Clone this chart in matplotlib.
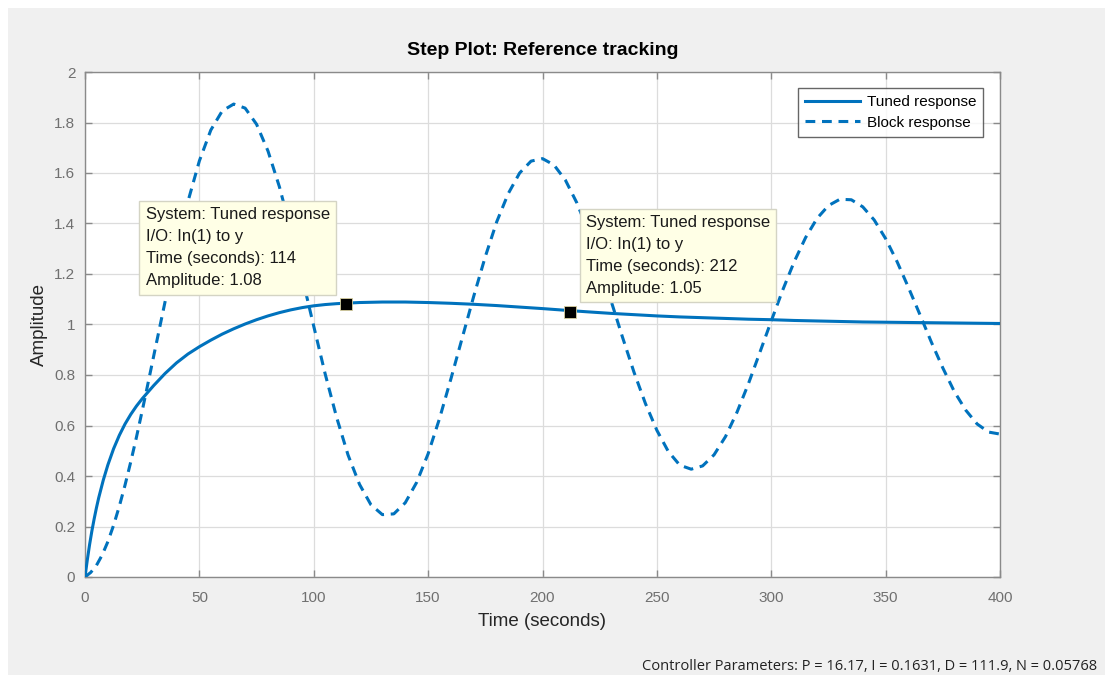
import matplotlib
matplotlib.use("Agg")
import matplotlib.pyplot as plt
from matplotlib.patches import Rectangle
from matplotlib.ticker import FormatStrFormatter, MultipleLocator

# tuned response
time_tuned = [0, 1, 2, 3, 4, 5, 6, 8, 10, 12.5, 15, 17.5, 20, 22.5, 25, 30, 35, 40, 45, 50,
              55, 60, 65, 70, 75, 80, 85, 90, 95, 100, 105, 110, 114, 120, 130, 140, 150, 160,
              170, 180, 190, 200, 212, 220, 230, 240, 250, 260, 270, 280, 290, 300, 310, 320,
              330, 340, 350, 360, 370, 380, 390, 400]
amp_tuned = [0, 0.067, 0.128, 0.182, 0.23, 0.274, 0.314, 0.384, 0.444, 0.508, 0.561, 0.606,
             0.644, 0.677, 0.706, 0.758, 0.806, 0.848, 0.883, 0.912, 0.938, 0.962, 0.983,
             1.002, 1.019, 1.034, 1.047, 1.058, 1.067, 1.074, 1.079, 1.0825, 1.0845, 1.087,
             1.089, 1.089, 1.087, 1.084, 1.080, 1.075, 1.069, 1.063, 1.055, 1.050, 1.044,
             1.039, 1.034, 1.030, 1.027, 1.024, 1.021, 1.019, 1.016, 1.014, 1.012, 1.010,
             1.009, 1.008, 1.007, 1.006, 1.005, 1.004]

# block response
time_block = [0, 2.5, 5, 7.5, 10, 12.5, 15, 17.5, 20, 22.5, 25, 27.5, 30] + list(range(35, 405, 5))
amp_block = [0, 0.018, 0.046, 0.087, 0.14, 0.205, 0.28, 0.364, 0.456, 0.554, 0.658, 0.765,
             0.874, 1.09, 1.297, 1.487, 1.648, 1.77, 1.846, 1.873, 1.857, 1.793, 1.687,
             1.545, 1.373, 1.185, 0.993, 0.804, 0.632, 0.483, 0.367, 0.286, 0.247, 0.250,
             0.294, 0.375, 0.488, 0.628, 0.786, 0.950, 1.114, 1.269, 1.407, 1.518, 1.600,
             1.647, 1.657, 1.632, 1.572, 1.482, 1.369, 1.236, 1.093, 0.949, 0.811, 0.687,
             0.581, 0.497, 0.443, 0.427, 0.440, 0.484, 0.556, 0.652, 0.765, 0.889, 1.014,
             1.136, 1.248, 1.344, 1.420, 1.471, 1.496, 1.494, 1.466, 1.414, 1.340, 1.249,
             1.146, 1.039, 0.930, 0.828, 0.735, 0.661, 0.606, 0.574, 0.566]

# data tips
tip_time = [114, 212]
tip_amp = [1.08, 1.05]

controller_text = "Controller Parameters: P = 16.17, I = 0.1631, D = 111.9, N = 0.05768"

blue = "#0072BD"
plt.rcParams['font.family'] = ['Liberation Sans', 'DejaVu Sans']

fig = plt.figure(figsize=(11.05, 6.75), dpi=100, facecolor="white")
# grey panel behind the plot (thin white strip on top and left)
fig.patches.append(Rectangle((8 / 1105, 0), 1, (675 - 8) / 675, transform=fig.transFigure,
                             facecolor="#f0f0f0", edgecolor="none", zorder=-10))

ax = fig.add_axes([85 / 1105, 98 / 675, 915 / 1105, 505 / 675])
ax.plot(time_tuned, amp_tuned, color=blue, lw=2.2, label="Tuned response", zorder=3)
ax.plot(time_block, amp_block, color=blue, lw=2.2, ls=(0, (3.2, 2.2)),
        label="Block response", zorder=3)

ax.set_xlim(0, 400)
ax.set_ylim(0, 2)
ax.xaxis.set_major_locator(MultipleLocator(50))
ax.yaxis.set_major_locator(MultipleLocator(0.2))
ax.yaxis.set_major_formatter(FormatStrFormatter('%g'))
ax.grid(True, color="#dcdcdc", lw=0.9)
ax.set_axisbelow(True)
for s in ax.spines.values():
    s.set_color("#8a8a8a")
    s.set_linewidth(1.0)
ax.tick_params(direction="in", length=5, width=1, color="#8a8a8a", labelcolor="#707070",
               labelsize=11, top=True, right=True)
ax.tick_params(axis="x", pad=10)
ax.tick_params(axis="y", pad=7)

ax.set_title("Step Plot: Reference tracking", fontsize=14, fontweight="bold", pad=12)
ax.set_xlabel("Time (seconds)", fontsize=13.5, color="#262626")
ax.set_ylabel("Amplitude", fontsize=13.5, color="#262626")
ax.xaxis.set_label_coords(0.5, -0.071)
ax.yaxis.set_label_coords(-0.041, 0.5)

leg = ax.legend(loc="upper right", bbox_to_anchor=(0.9814, 0.9683), borderaxespad=0,
                fontsize=11, frameon=True, fancybox=False, handlelength=3.6,
                handletextpad=0.45, labelspacing=0.45, borderpad=0.45)
leg.get_frame().set_edgecolor("#404040")
leg.get_frame().set_linewidth(1.0)

# data tip markers and boxes
offsets = [(-16, 16), (16, 16)]
aligns = ["right", "left"]
for t, a, off, ha in zip(tip_time, tip_amp, offsets, aligns):
    ax.plot(t, a, "s", color="black", markersize=8.5, markeredgecolor="#d8d0a0",
            markeredgewidth=0.6, zorder=5)
    label = "System: Tuned response\nI/O: In(1) to y\nTime (seconds): %g\nAmplitude: %g" % (t, a)
    ax.annotate(label, xy=(t, a), xytext=off, textcoords="offset pixels", ha=ha, va="bottom",
                multialignment="left", fontsize=12, color="#1a1a1a", linespacing=1.58,
                zorder=6,
                bbox=dict(boxstyle="square,pad=0.38", facecolor="#ffffe6",
                          edgecolor="#d4d4c4", linewidth=1.0))

fig.text(1097 / 1105, 9 / 675, controller_text, ha="right", va="center",
         fontsize=10.5, color="#222222", family=["Open Sans", "DejaVu Sans"])

fig.savefig("out.png", dpi=100, facecolor=fig.get_facecolor())
